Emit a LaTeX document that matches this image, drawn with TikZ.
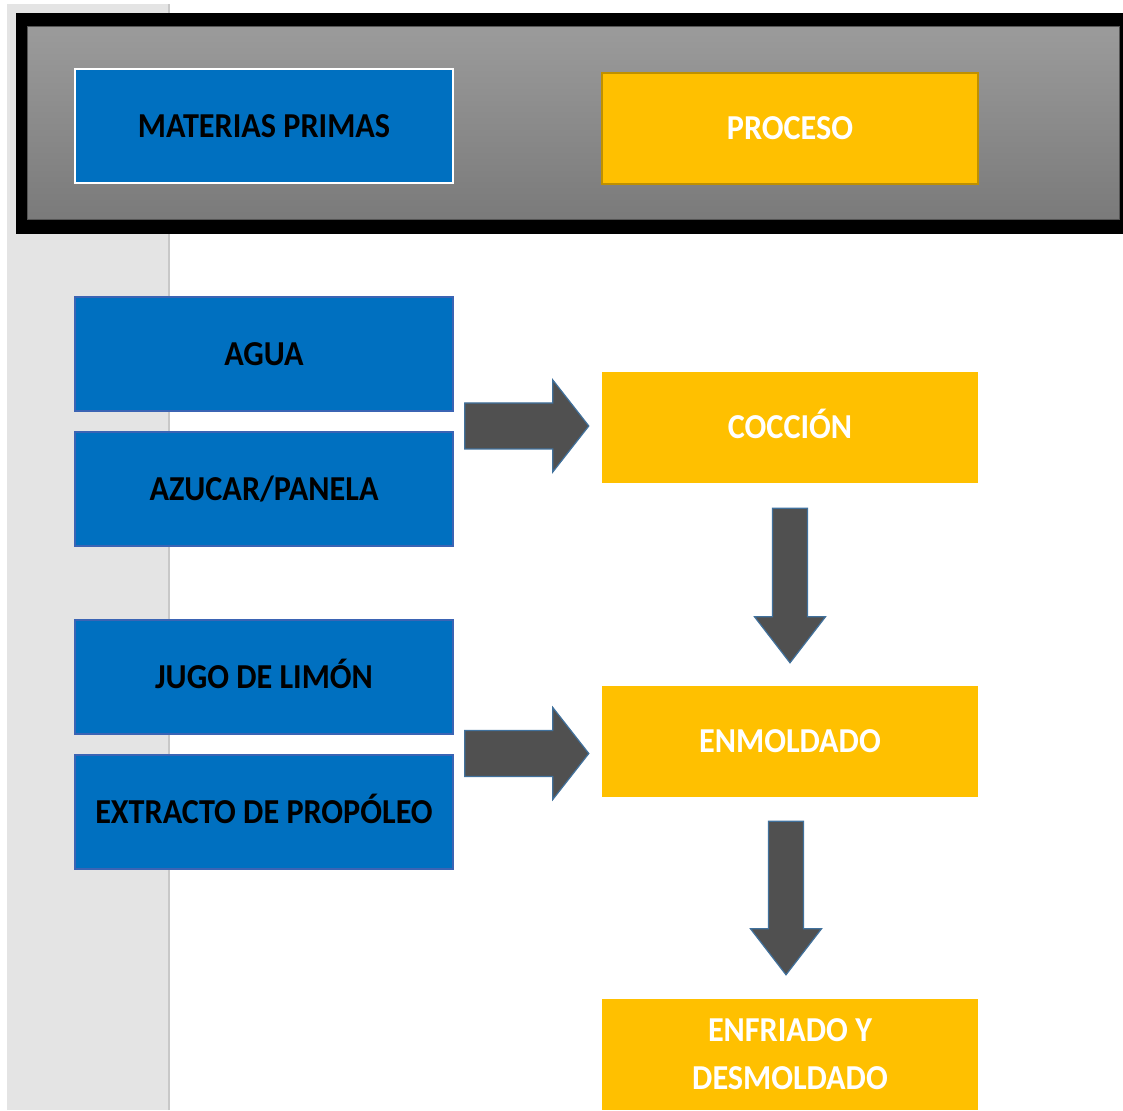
\documentclass[tikz,border=0pt]{standalone}
\usepackage{fontspec}
\setmainfont{Carlito}[FakeStretch=0.92]
\usetikzlibrary{calc}

\newcommand{\rightblock}[2]{%
  \draw[blockarrow] let \p1=(#1), \p2=(#2) in
    (\x1,\y1+23pt) -- (\x2-36pt,\y1+23pt) -- (\x2-36pt,\y1+46pt) -- (\x2,\y1) --
    (\x2-36pt,\y1-46pt) -- (\x2-36pt,\y1-23pt) -- (\x1,\y1-23pt) -- cycle;}
\newcommand{\downblock}[2]{%
  \draw[blockarrow] let \p1=(#1), \p2=(#2) in
    (\x1-17.5pt,\y1) -- (\x1-17.5pt,\y2+46pt) -- (\x1-35.5pt,\y2+46pt) -- (\x1,\y2) --
    (\x1+35.5pt,\y2+46pt) -- (\x1+17.5pt,\y2+46pt) -- (\x1+17.5pt,\y1) -- cycle;}

\begin{document}
\begin{tikzpicture}[x=1pt,y=1pt,
  boxtext/.style={font=\fontsize{35}{48}\selectfont\bfseries,inner sep=0pt},
  oneline/.style={text height=22.5pt,text depth=0pt},
  rawbox/.style={boxtext,oneline,rectangle,fill=rawFill,draw=rawLine,line width=1.5pt,
    minimum width=378pt,minimum height=114pt,text=black},
  procbox/.style={boxtext,rectangle,fill=procFill,minimum width=376pt,
    minimum height=111pt,text=white,align=center},
  blockarrow/.style={fill=arrowFill,draw=arrowLine,line width=1.2pt,line join=miter}]
\definecolor{rawFill}{RGB}{0,112,192}
\definecolor{rawLine}{RGB}{59,100,180}
\definecolor{procFill}{RGB}{255,192,0}
\definecolor{procLine}{RGB}{191,144,0}
\definecolor{arrowFill}{RGB}{80,80,80}
\definecolor{arrowLine}{RGB}{65,113,156}
\definecolor{stripFill}{RGB}{228,228,228}
\definecolor{stripLine}{RGB}{200,200,200}
\definecolor{hdrTop}{RGB}{155,155,155}
\definecolor{hdrBot}{RGB}{122,122,122}
\definecolor{hdrLine}{RGB}{85,85,85}
\path[use as bounding box,fill=white] (0,0) rectangle (1123,1110);

\fill[stripFill] (7,0) rectangle (170,1106);
\draw[stripLine,line width=2pt] (169,0) -- (169,1106);

\fill[black] (16,876) rectangle (1123,1097);
\shadedraw[top color=hdrTop,bottom color=hdrBot,draw=hdrLine,line width=1pt] (27,890) rectangle (1119,1083);

\node[rawbox,draw=white,line width=2pt] (materias) at (264,984) {MATERIAS PRIMAS};
\node[procbox,oneline,draw=procLine,line width=1.5pt] (proceso) at (790,981.5) {PROCESO};

\node[rawbox] (agua) at (264,756) {AGUA};
\node[rawbox] (azucar) at (264,621) {AZUCAR/PANELA};
\node[rawbox] (jugo) at (264,433) {JUGO DE LIMÓN};
\node[rawbox] (extracto) at (264,298) {EXTRACTO DE PROPÓLEO};

\node[procbox,oneline] (coccion) at (790,682.5) {COCCIÓN};
\node[procbox,oneline] (enmoldado) at (790,368.5) {ENMOLDADO};
\node[procbox] (enfriado) at (790,55.5) {ENFRIADO Y\\DESMOLDADO};

\coordinate (r1s) at ($(coccion.west -| agua.east)+(11,1.5)$);
\coordinate (r1e) at ($(coccion.west)+(-13,1.5)$);
\coordinate (r2s) at ($(enmoldado.west -| jugo.east)+(11,-12)$);
\coordinate (r2e) at ($(enmoldado.west)+(-13,-12)$);
\coordinate (d1s) at ($(coccion.south)+(0,-25)$);
\coordinate (d1e) at ($(enmoldado.north)+(0,23)$);
\coordinate (d2s) at ($(enmoldado.south)+(-4,-24)$);
\coordinate (d2e) at ($(enfriado.north)+(-4,24)$);

\rightblock{r1s}{r1e}
\rightblock{r2s}{r2e}
\downblock{d1s}{d1e}
\downblock{d2s}{d2e}
\end{tikzpicture}
\end{document}
